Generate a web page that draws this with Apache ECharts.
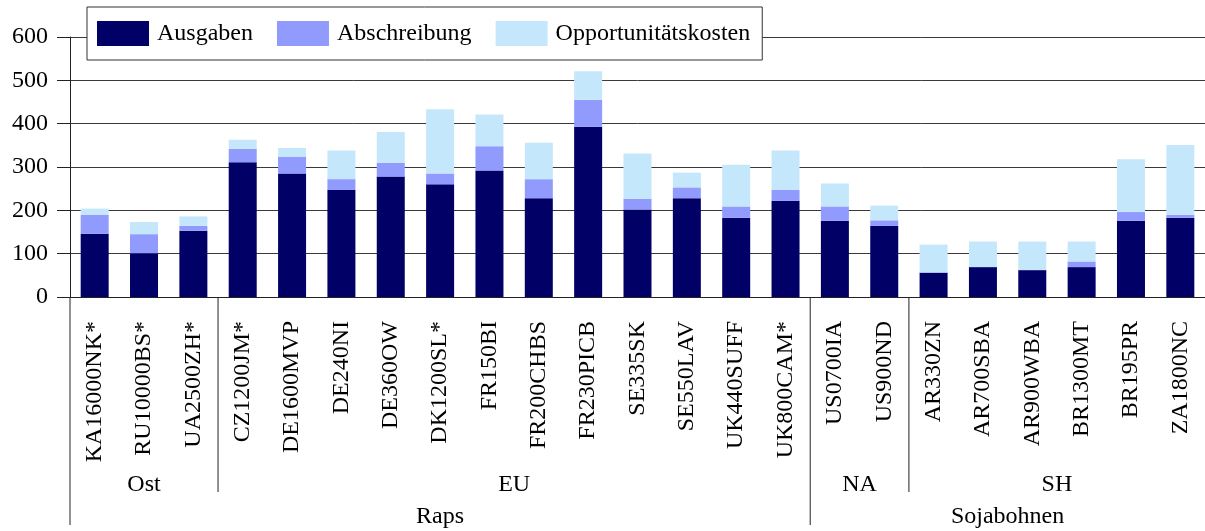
<!DOCTYPE html>
<html>
<head>
<meta charset="utf-8">
<script src="https://cdn.jsdelivr.net/npm/echarts@6/dist/echarts.min.js"></script>
<style>
  html, body { margin: 0; padding: 0; background: #fff; }
  #chart { width: 1205px; height: 531px; }
</style>
</head>
<body>
<div id="chart"></div>
<script>
const categories = [
  'KA16000NK*', 'RU10000BS*', 'UA2500ZH*',
  'CZ1200JM*', 'DE1600MVP', 'DE240NI', 'DE360OW', 'DK1200SL*', 'FR150BI',
  'FR200CHBS', 'FR230PICB', 'SE335SK', 'SE550LAV', 'UK440SUFF', 'UK800CAM*',
  'US0700IA', 'US900ND',
  'AR330ZN', 'AR700SBA', 'AR900WBA', 'BR1300MT', 'BR195PR', 'ZA1800NC'
]
const ausgaben = [146, 101, 153, 311, 285, 247, 278, 260, 292, 228, 393, 202, 228, 183, 222, 176, 164, 56, 69, 62, 69, 176, 183]
const abschreibung = [44, 44, 11, 31, 39, 25, 32, 25, 56, 44, 62, 25, 25, 26, 25, 33, 13, 1, 0, 1, 13, 20, 7]
const opportunitaetskosten = [14, 28, 22, 21, 20, 66, 71, 148, 73, 84, 66, 104, 34, 96, 91, 53, 34, 64, 59, 65, 46, 122, 161]

const groupNames = ['Ost', 'EU', 'NA', 'SH']
const groupSizes = [3, 12, 2, 6]
const cropNames = ['Raps', 'Sojabohnen']
const cropSizes = [15, 8]

const serif = '"Liberation Serif", "Times New Roman", serif'
const lineColor = '#222'
const fontSize = 24

const chart = echarts.init(document.getElementById('chart'))

chart.setOption({
  animation: false,
  backgroundColor: '#fff',
  textStyle: { fontFamily: serif },
  grid: { left: 70, right: -4, top: 37, bottom: 234, containLabel: false },
  legend: {
    left: 87,
    top: 7,
    padding: [14, 12, 14, 10],
    itemGap: 24,
    itemWidth: 52,
    itemHeight: 25,
    backgroundColor: '#fff',
    borderColor: '#333',
    borderWidth: 1,
    borderRadius: 0,
    icon: 'rect',
    textStyle: { fontFamily: serif, fontSize: fontSize, color: '#000', padding: [0, 0, 0, 3] },
    data: ['Ausgaben', 'Abschreibung', 'Opportunitätskosten']
  },
  xAxis: {
    type: 'category',
    data: categories,
    axisLine: { lineStyle: { color: lineColor, width: 1 } },
    axisTick: { alignWithLabel: true, length: 10, lineStyle: { color: lineColor } },
    axisLabel: {
      rotate: 90,
      interval: 0,
      margin: 24,
      fontFamily: serif,
      fontSize: fontSize,
      color: '#000'
    },
    splitLine: { show: false }
  },
  yAxis: {
    type: 'value',
    min: 0,
    max: 600,
    interval: 100,
    axisLine: { show: true, lineStyle: { color: lineColor, width: 1 } },
    axisTick: { show: true, length: 13, lineStyle: { color: lineColor } },
    axisLabel: { margin: 22, fontFamily: serif, fontSize: fontSize, color: '#000' },
    splitLine: { show: true, lineStyle: { color: '#3a3a3a', width: 1 } }
  },
  series: [
    { name: 'Ausgaben', type: 'bar', stack: 'k', barWidth: 28, data: ausgaben, itemStyle: { color: '#000066' } },
    { name: 'Abschreibung', type: 'bar', stack: 'k', barWidth: 28, data: abschreibung, itemStyle: { color: '#909bfd' } },
    { name: 'Opportunitätskosten', type: 'bar', stack: 'k', barWidth: 28, data: opportunitaetskosten, itemStyle: { color: '#c5e7fc' } }
  ]
})

// Gruppenzeilen unter der Achse (Ost/EU/NA/SH, Raps/Sojabohnen)
function drawGroups() {
  const px = i => chart.convertToPixel({ xAxisIndex: 0 }, i)
  const step = px(1) - px(0)
  const edge = i => px(i) - step / 2
  const y0 = chart.convertToPixel({ yAxisIndex: 0 }, 0)
  const elements = []
  const label = (text, x, y) => ({
    type: 'text',
    style: {
      text: text, x: x, y: y,
      font: fontSize + 'px ' + serif, fill: '#000',
      textAlign: 'center', textVerticalAlign: 'middle', verticalAlign: 'middle'
    }
  })
  const vline = (x, len) => ({
    type: 'line',
    shape: { x1: x, y1: y0, x2: x, y2: y0 + len },
    style: { stroke: lineColor, lineWidth: 1 }
  })

  const cropStarts = []
  let s = 0
  cropSizes.forEach((n, k) => {
    cropStarts.push(s)
    elements.push(label(cropNames[k], (edge(s) + edge(s + n)) / 2, y0 + 220))
    elements.push(vline(edge(s), 228))
    s += n
  })

  s = 0
  groupSizes.forEach((n, k) => {
    elements.push(label(groupNames[k], (edge(s) + edge(s + n)) / 2, y0 + 188))
    if (cropStarts.indexOf(s) < 0) elements.push(vline(edge(s), 195))
    s += n
  })

  chart.setOption({ graphic: elements })
}
drawGroups()
</script>
</body>
</html>
